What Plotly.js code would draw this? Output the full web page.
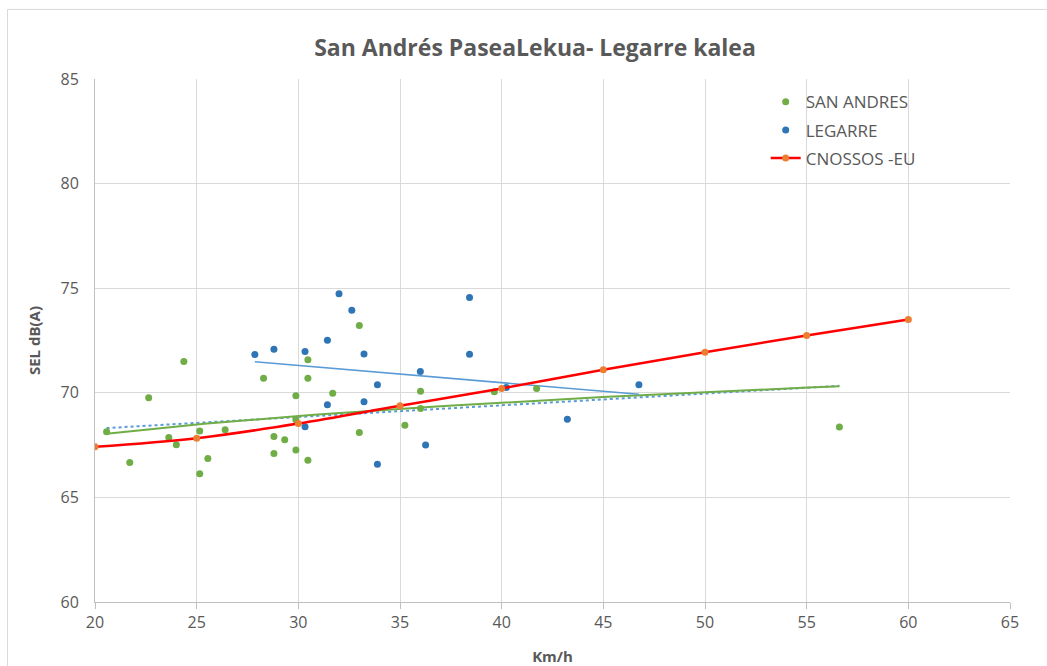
<!DOCTYPE html>
<html>
<head>
<meta charset="utf-8">
<script src="https://cdn.plot.ly/plotly-3.0.1.min.js"></script>
<style>
  html, body { margin: 0; padding: 0; background: #fff; }
  #chart { width: 1047px; height: 666px; }
</style>
</head>
<body>
<div id="chart"></div>
<script>
// ---- Data ----
const sanAndresX = [20.57, 21.71, 22.64, 23.63, 24.0, 24.37, 25.15, 25.55, 25.15, 26.40,
  28.29, 28.80, 28.80, 29.33, 29.88, 29.88, 29.88, 30.47, 30.47, 30.47,
  31.69, 33.0, 33.0, 35.24, 36.01, 36.01, 39.64, 41.72, 56.61];
const sanAndresY = [68.14, 66.67, 69.76, 67.86, 67.52, 71.50, 68.17, 66.86, 66.13, 68.23,
  70.70, 67.91, 67.10, 67.75, 69.86, 68.71, 67.26, 71.58, 70.70, 66.78,
  69.98, 73.22, 68.10, 68.45, 70.08, 69.25, 70.05, 70.21, 68.36];

const legarreX = [27.86, 28.80, 30.33, 31.43, 32.0, 31.43, 30.33, 32.63, 33.23, 33.89,
  33.23, 33.89, 36.0, 36.26, 38.42, 38.42, 40.23, 43.23, 46.75];
const legarreY = [71.83, 72.08, 71.97, 72.51, 74.73, 69.43, 68.38, 73.95, 71.86, 70.38,
  69.57, 66.59, 71.02, 67.50, 74.55, 71.84, 70.25, 68.74, 70.38];

const cnossosX = [20, 25, 30, 35, 40, 45, 50, 55, 60];
const cnossosY = [67.42, 67.83, 68.53, 69.38, 70.21, 71.10, 71.94, 72.74, 73.50];

const xTicks = [20, 25, 30, 35, 40, 45, 50, 55, 60, 65];
const yTicks = [60, 65, 70, 75, 80, 85];

// ---- Trendlines computed from the data (least squares) ----
function linFit(xs, ys) {
  const n = xs.length;
  const mx = xs.reduce((a, b) => a + b, 0) / n;
  const my = ys.reduce((a, b) => a + b, 0) / n;
  let sxy = 0, sxx = 0;
  for (let i = 0; i < n; i++) { sxy += (xs[i] - mx) * (ys[i] - my); sxx += (xs[i] - mx) ** 2; }
  const b = sxy / sxx;
  return x => my + b * (x - mx);
}
function logFit(xs, ys) {
  const f = linFit(xs.map(Math.log), ys);
  return x => f(Math.log(x));
}
function sample(f, x0, x1, n) {
  const xs = [], ys = [];
  for (let i = 0; i <= n; i++) { const x = x0 + (x1 - x0) * i / n; xs.push(x); ys.push(f(x)); }
  return { xs, ys };
}
const saMin = Math.min(...sanAndresX), saMax = Math.max(...sanAndresX);
const lgMin = Math.min(...legarreX), lgMax = Math.max(...legarreX);
const saLog = sample(logFit(sanAndresX, sanAndresY), saMin, saMax, 60);
const saLin = sample(linFit(sanAndresX, sanAndresY), saMin, saMax, 1);
const lgLin = sample(linFit(legarreX, legarreY), lgMin, lgMax, 1);

const GREEN = '#70ad47', BLUE = '#2e75b6', ORANGE = '#ed7d31', RED = '#ff0000', LBLUE = '#5b9bd5';
const TXT = '#595959';
const FONT = 'Open Sans, Lato, sans-serif';

const traces = [
  { x: saLin.xs, y: saLin.ys, mode: 'lines', line: { color: LBLUE, width: 2, dash: 'dot' },
    showlegend: false, hoverinfo: 'skip' },
  { x: saLog.xs, y: saLog.ys, mode: 'lines', line: { color: GREEN, width: 2 },
    showlegend: false, hoverinfo: 'skip' },
  { x: lgLin.xs, y: lgLin.ys, mode: 'lines', line: { color: LBLUE, width: 1.6 },
    showlegend: false, hoverinfo: 'skip' },
  { x: sanAndresX, y: sanAndresY, mode: 'markers', name: 'SAN ANDRES',
    marker: { color: GREEN, size: 7 }, legendgroup: 'a', legendrank: 1 },
  { x: legarreX, y: legarreY, mode: 'markers', name: 'LEGARRE',
    marker: { color: BLUE, size: 7 }, legendgroup: 'b', legendrank: 2 },
  { x: cnossosX, y: cnossosY, mode: 'lines+markers', name: 'CNOSSOS -EU',
    line: { color: RED, width: 2.5, shape: 'spline' },
    marker: { color: ORANGE, size: 7 }, legendgroup: 'c', legendrank: 3 }
];

const layout = {
  width: 1047, height: 666,
  margin: { l: 95, r: 37, t: 79, b: 64 },
  paper_bgcolor: '#ffffff', plot_bgcolor: '#ffffff',
  font: { family: FONT, color: TXT, size: 16 },
  title: { text: '<b>San Andrés PaseaLekua- Legarre kalea</b>',
    font: { family: FONT, size: 23, color: TXT }, x: 0.511, xanchor: 'center', y: 0.928, yanchor: 'middle' },
  xaxis: {
    range: [20, 65], tickvals: xTicks, ticktext: xTicks.map(String),
    showgrid: true, gridcolor: '#d9d9d9', gridwidth: 1,
    showline: true, linecolor: '#bfbfbf', linewidth: 1,
    ticks: 'outside', ticklen: 6, tickcolor: '#bfbfbf',
    tickfont: { family: FONT, size: 16, color: TXT }, zeroline: false,
    title: { text: '<b>Km/h</b>', font: { family: FONT, size: 15, color: TXT }, standoff: 22 }
  },
  yaxis: {
    range: [60, 85], tickvals: yTicks, ticktext: yTicks.map(String),
    showgrid: true, gridcolor: '#d9d9d9', gridwidth: 1,
    showline: true, linecolor: '#bfbfbf', linewidth: 1,
    ticks: '', ticklabelstandoff: 12,
    tickfont: { family: FONT, size: 16, color: TXT }, zeroline: false,
    title: { text: '<b>SEL dB(A)</b>', font: { family: FONT, size: 15, color: TXT }, standoff: 16 }
  },
  legend: {
    x: 0.733, y: 0.99, xanchor: 'left', yanchor: 'top',
    bgcolor: 'rgba(0,0,0,0)', font: { family: FONT, size: 17, color: TXT },
    traceorder: 'grouped', tracegroupgap: 3, itemwidth: 30
  },
  shapes: [
    { type: 'line', xref: 'paper', yref: 'paper', x0: -0.0956, x1: -0.0956, y0: 1.133, y1: -0.2,
      line: { color: '#d9d9d9', width: 1 } },
    { type: 'line', xref: 'paper', yref: 'paper', x0: -0.0956, x1: 1.1, y0: 1.133, y1: 1.133,
      line: { color: '#d9d9d9', width: 1 } }
  ],
  showlegend: true
};

Plotly.newPlot('chart', traces, layout, { displayModeBar: false, staticPlot: true });
</script>
</body>
</html>
